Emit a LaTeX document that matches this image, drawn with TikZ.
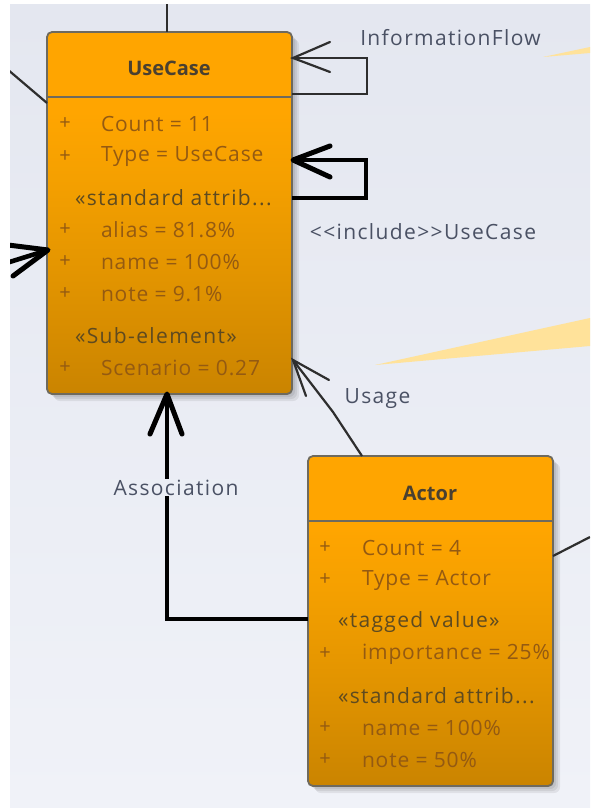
\documentclass[tikz,border=0pt]{standalone}
\usepackage{fontspec}
\setmainfont{Open Sans}
\newfontfamily\attrfont[LetterSpace=4]{Open Sans}
\newfontfamily\labfont[LetterSpace=6.5]{Open Sans}
\usetikzlibrary{calc,arrows.meta}
\definecolor{bgtop}{HTML}{E4E7F0}
\definecolor{bgbot}{HTML}{F0F2F8}
\definecolor{boxtop}{HTML}{FFA500}
\definecolor{boxmidb}{HTML}{F5A000}
\definecolor{boxmida}{HTML}{E29400}
\definecolor{boxbot}{HTML}{CA8400}
\definecolor{boxedge}{HTML}{6E6A5E}
\definecolor{ink}{HTML}{2E2E2E}
\definecolor{head}{HTML}{4A4030}
\definecolor{attr}{HTML}{945A12}
\definecolor{stereo}{HTML}{5E4A20}
\definecolor{lab}{HTML}{4A5164}
\definecolor{wedge}{HTML}{FFE29A}
\pgfdeclareverticalshading{bg}{100bp}{color(0bp)=(bgbot); color(25bp)=(bgbot); color(75bp)=(bgtop); color(100bp)=(bgtop)}
\pgfdeclareverticalshading{boxfade}{100bp}{color(0bp)=(boxbot); color(25bp)=(boxbot); color(41bp)=(boxmida); color(55bp)=(boxmidb); color(64bp)=(boxtop); color(100bp)=(boxtop)}
\tikzset{
  every node/.style={inner sep=0pt,outer sep=0pt},
  umlbox/.style={draw=boxedge,line width=1.8pt,rounded corners=5pt,shading=boxfade,anchor=north west},
  boxshadow/.style={fill=black,fill opacity=.07,rounded corners=6pt,draw=none},
  boxhead/.style={font=\bfseries\fontsize{20}{22}\selectfont,text=head,anchor=center},
  rule/.style={draw=boxedge,line width=1.8pt},
  plus/.style={font=\fontsize{20}{22}\selectfont,text=attr,anchor=center},
  attrib/.style={font=\attrfont\fontsize{21}{24}\selectfont,text=attr,anchor=west},
  stype/.style={font=\labfont\fontsize{21}{24}\selectfont,text=stereo,anchor=west},
  linklabel/.style={font=\labfont\fontsize{21}{24}\selectfont,text=lab,anchor=center},
  thin link/.style={draw=ink,line width=2.2pt},
  thick link/.style={draw=black,line width=4.6pt},
  thinhead/.style={draw=ink,line width=2.2pt,line cap=round},
  thickhead/.style={draw=black,line width=5pt,line cap=round},
}
\begin{document}
\begin{tikzpicture}[x=1pt,y=-1pt]
\useasboundingbox (0,0) rectangle (590,808);
\fill[white] (0,0) rectangle (590,808);
\begin{scope}
\clip (10,5) rectangle (590,808);
\shade[shading=bg] (10,5) rectangle (590,808);
\fill[wedge] (543,57) -- (590,47) -- (590,53) -- cycle;
\fill[wedge] (375,365) -- (590,318) -- (590,346) -- cycle;

% shadows
\foreach \d in {1,3,5,7}{
  \fill[boxshadow] (47+\d,32+\d) rectangle (292+\d,394+\d);
  \fill[boxshadow] (308+\d,456+\d) rectangle (553+\d,786+\d);
}

% boxes
\node[umlbox,minimum width=245pt,minimum height=362pt] (uc) at (47,32) {};
\node[umlbox,minimum width=245pt,minimum height=330pt] (ac) at (308,456) {};
\draw[rule] (47,97) -- (292,97);
\draw[rule] (308,521) -- (553,521);

% free ends at the picture's edge
\coordinate (topend) at (167,0);
\coordinate (leftend) at (0,63);
\coordinate (leftin) at (0,265);
\coordinate (rightend) at (590,537);

% coordinates on the boxes
\coordinate (ucTop) at (167,32);
\coordinate (ucLeftA) at (47,103);
\coordinate (ucLeftB) at (48,250);
\coordinate (ucFlowIn) at (293,58);
\coordinate (ucFlowOut) at (292,94);
\coordinate (ucIncIn) at (293,160);
\coordinate (ucIncOut) at (292,198);
\coordinate (ucBottom) at (167,394);
\coordinate (ucUsage) at (293,360);
\coordinate (acUsage) at (362,456);
\coordinate (acAssoc) at (308,619);
\coordinate (acRight) at (553,556);
\coordinate (barbA) at (0,244);
\coordinate (barbB) at (13,276);

% connectors
\draw[thin link] (topend) -- (ucTop);
\draw[thin link] (leftend) -- (ucLeftA);
\draw[thin link] (acRight) -- (rightend);

\draw[thin link] (ucFlowOut) -| (367,58) -- (ucFlowIn);
\draw[thinhead] (330,42) -- (ucFlowIn) -- (330,72);

\draw[thick link,line join=miter] (ucIncOut) -| (366,160) -- (ucIncIn);
\draw[thickhead,line join=round] (330,146) -- (ucIncIn) -- (330,177);

\draw[thick link] (leftin) -- (ucLeftB);
\draw[thickhead,line join=round] (barbA) -- (ucLeftB) -- (barbB);

\draw[thick link] (acAssoc) -| (ucBottom);
\draw[thickhead,line join=round] (150,434) -- (ucBottom) -- (182,434);

\draw[thin link] (acUsage) -- (333,412) -- (ucUsage);
\draw[thinhead] (329,380) -- (ucUsage) -- (306,396);

% link labels
\node[linklabel] (lflow) at (450.5,37.5) {InformationFlow};
\node[linklabel] (linc) at (423,231.5) {<{}<include>{}>UseCase};
\node[linklabel] (lusage) at (377.5,399) {Usage};
\node[linklabel,fill=bgbot!60!bgtop,inner xsep=3pt,inner ysep=1pt] (lassoc) at (176,487.5) {Association};
\end{scope}

% UseCase contents
\node[boxhead] (ucname) at (169,68.5) {UseCase};
\foreach \y/\t [count=\i] in {124/Count = 11,156.5/Type = UseCase,230/alias = 81.8\%,262/name = 100\%,294/note = 9.1\%,368/Scenario = 0.27}{
  \node[plus] (ucp\i) at (65,\y) {+};
  \node[attrib] (uca\i) at (101,\y) {\t};
}
\node[stype] (ucs1) at (75,197.5) {«standard attrib...};
\node[stype] (ucs2) at (75,335.5) {«Sub-element»};

% Actor contents
\node[boxhead] (acname) at (430,493.5) {Actor};
\foreach \y/\t [count=\i] in {548/Count = 4,580/Type = Actor,654/importance = 25\%,728/name = 100\%,760/note = 50\%}{
  \node[plus] (acp\i) at (325,\y) {+};
  \node[attrib] (aca\i) at (362,\y) {\t};
}
\node[stype] (acs1) at (338,622) {«tagged value»};
\node[stype] (acs2) at (338,695.5) {«standard attrib...};
\end{tikzpicture}
\end{document}
